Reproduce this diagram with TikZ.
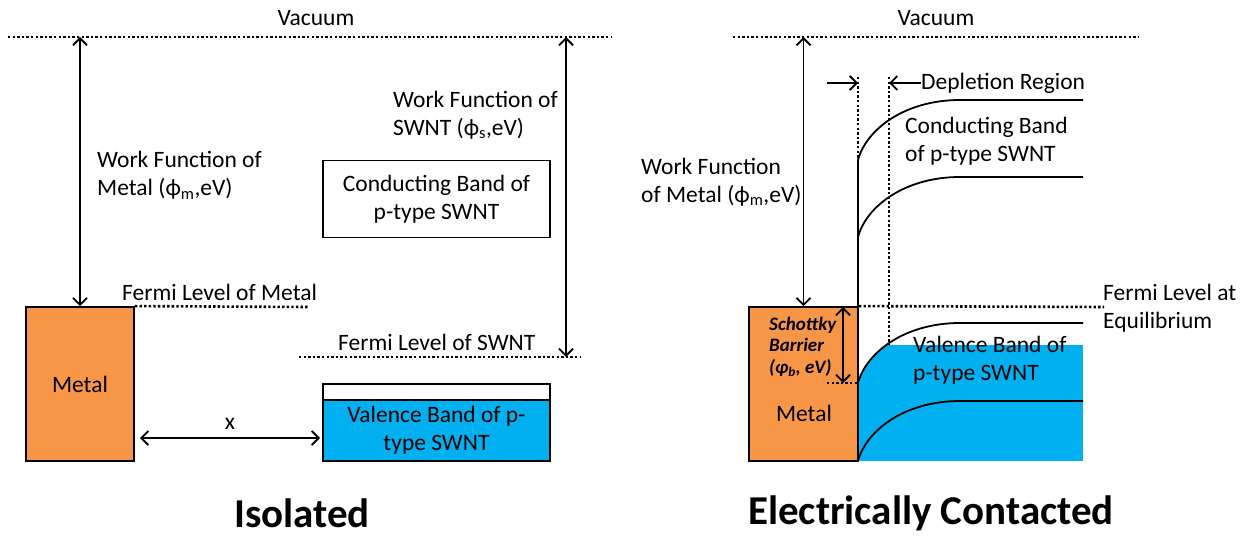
\documentclass[tikz,border=0pt]{standalone}
\usepackage{fontspec}
\setmainfont{Carlito}
\usetikzlibrary{arrows.meta,positioning,calc}
\definecolor{metalorange}{HTML}{F79646}
\definecolor{bandblue}{HTML}{00B0F0}

\begin{document}
\begin{tikzpicture}[x=1pt, y=-1pt,
    font=\fontsize{23.5}{28}\selectfont,
    level/.style={line width=2.6pt, dash pattern=on 2.4pt off 2.2pt},
    band/.style={line width=1.8pt},
    dim/.style={line width=1.8pt, {Straight Barb[length=7pt,width=14pt]}-{Straight Barb[length=7pt,width=14pt]}},
    onearrow/.style={line width=1.8pt, -{Straight Barb[length=7pt,width=14pt]}},
    metal/.style={draw, line width=1.8pt, fill=metalorange, inner sep=0pt},
    bandbox/.style={draw, line width=1.8pt, inner sep=0pt, align=center},
    lbl/.style={inner sep=0pt, align=left, anchor=west},
    title/.style={inner sep=0pt, font=\fontsize{41}{48}\selectfont\bfseries}
]
\useasboundingbox (0,0) rectangle (1244,537);

% ---- isolated ----
\coordinate (vacL1) at (8,37);
\coordinate (vacL2) at (612,37);
\node (vacLtxt) at (316,18) {Vacuum};
\draw[level] (vacL1) -- (vacL2);

\node[metal, minimum width=108, minimum height=154] (metalL) at (80,384) {Metal};
\coordinate (fmLend) at (308,307);
\draw[level] (metalL.north east) -- (fmLend);
\node[lbl] (fmLtxt) at (122,292) {Fermi Level of Metal};

\coordinate (fsL1) at (299,357);
\coordinate (fsL2) at (580,357);
\draw[level] (fsL1) -- (fsL2);
\node[lbl] (fsLtxt) at (338,342) {Fermi Level of SWNT};

\node[bandbox, minimum width=227, minimum height=77] (cbL) at (436.5,199) {Conducting Band of\\p-type SWNT};
\node[bandbox, fill=white, minimum width=227, minimum height=16] (gapL) at (436.5,392) {};
\node[bandbox, fill=bandblue, minimum width=227, minimum height=61] (vbL) at (436.5,430.5) {Valence Band of p-\\type SWNT};

\draw[dim] (metalL.north) -- (metalL.north |- vacL1);
\coordinate (wfsTop) at (566,37);
\coordinate (wfsBot) at (566,357);
\draw[dim] (wfsTop) -- (wfsBot);
\node[lbl] (wfmL) at (97,175.5) {Work Function of\\Metal (ϕ\textsubscript{m},eV)};
\node[lbl] (wfsL) at (393,115) {Work Function of\\SWNT (ϕ\textsubscript{s},eV)};

\coordinate (xL) at (140,438);
\coordinate (xR) at (320,438);
\draw[dim] (xL) -- node[above=4pt] {x} (xR);

\node[title] (isol) at (302,513) {Isolated};

% ---- contacted ----
\coordinate (vacR1) at (733,37);
\coordinate (vacR2) at (1138,37);
\node (vacRtxt) at (936,18) {Vacuum};
\draw[level] (vacR1) -- (vacR2);

\begin{scope}
  \clip (858,383) .. controls (866,353) and (904,323) .. (960,323) -- (1083,323) -- (1083,461) -- (858,461) -- cycle;
  \fill[bandblue] (858,345) rectangle (1083,461);
\end{scope}

\node[metal, minimum width=109, minimum height=154] (metalR) at (803.5,384) {};
\node (metalRtxt) at (804,413) {Metal};

\foreach \y in {160,237,383,461}
  \draw[band] (858,\y) .. controls (866,\y-30) and (904,\y-60) .. (960,\y-60) -- (1083,\y-60);
\draw[band] (858,160) -- (858,461);

\coordinate (depL) at (858,77);
\coordinate (depLb) at (858,160);
\coordinate (depR) at (889,77);
\coordinate (depRb) at (889,345);
\draw[level] (depL) -- (depLb);
\draw[level] (depR) -- (depRb);
\coordinate (depArrL) at (827,83);
\coordinate (depArrR) at (921,83);
\draw[onearrow] (depArrL) -- (depL |- depArrL);
\draw[onearrow] (depArrR) -- (depR |- depArrR);
\node[lbl] (deptxt) at (921,83) {Depletion Region};
\node[lbl] (cbRtxt) at (905,141) {Conducting Band\\of p-type SWNT};
\node[lbl] (vbRtxt) at (913,360) {Valence Band of\\p-type SWNT};

\coordinate (feqEnd) at (1104,307);
\draw[level] (metalR.north east) -- (feqEnd);
\node[lbl] (feqtxt) at (1103,308) {Fermi Level at\\Equilibrium};

\draw[dim] (metalR.north) -- (metalR.north |- vacR1);
\node[lbl] (wfmR) at (641,182) {Work Function\\of Metal (ϕ\textsubscript{m},eV)};

\coordinate (sbTop) at (843,307);
\coordinate (sbBot) at (843,383);
\draw[dim] (sbTop) -- (sbBot);
\coordinate (sbDot) at (827,383);
\draw[level] (sbDot) -- (metalR.east |- sbDot);
\node[lbl, font=\fontsize{19}{21.5}\selectfont\bfseries\itshape] (sbtxt) at (769,347) {Schottky\\Barrier\\(φ\textsubscript{b}, eV)};

\node[title] (contact) at (931,513) {Electrically Contacted};
\end{tikzpicture}
\end{document}
